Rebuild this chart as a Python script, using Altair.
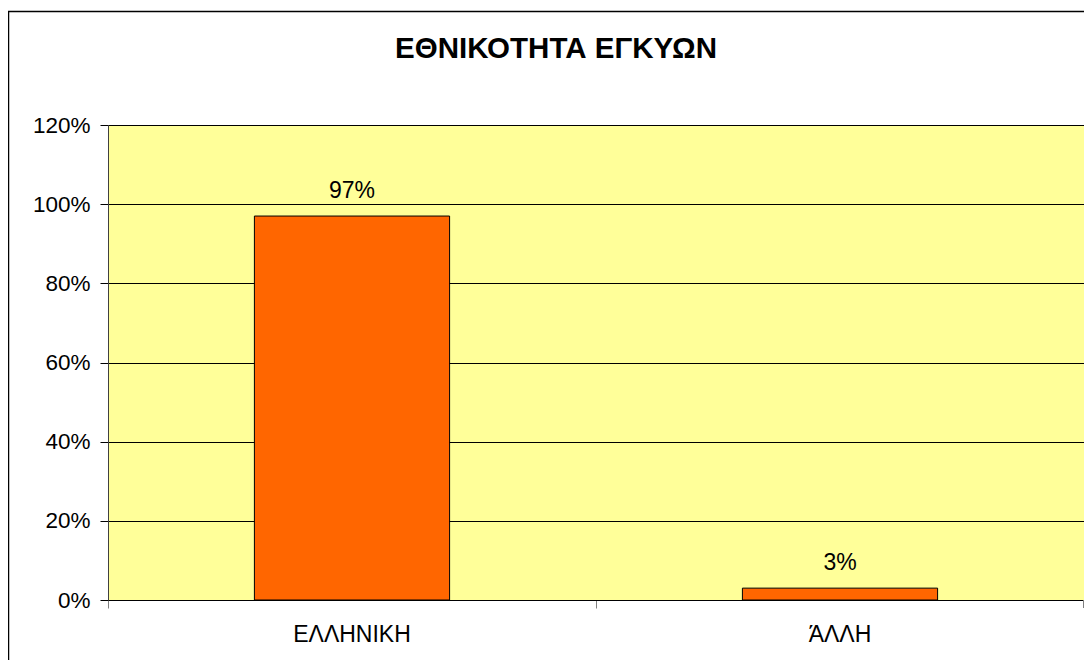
import altair as alt
import pandas as pd

categories = ["ΕΛΛΗΝΙΚΗ", "ΆΛΛΗ"]
values = [0.97, 0.03]
labels = ["97%", "3%"]
y_ticks = [0, 0.2, 0.4, 0.6, 0.8, 1.0, 1.2]

df = pd.DataFrame({"cat": categories, "val": values, "lab": labels})

FONT = "Liberation Sans"
W, H = 976, 475

x_enc = alt.X("cat:N", sort=categories, title=None,
              scale=alt.Scale(paddingInner=0, paddingOuter=0),
              axis=alt.Axis(labelAngle=0, bandPosition=0, tickSize=8, tickColor="#808080",
                            domainColor="#000000", labelFontSize=23, labelFont=FONT,
                            labelColor="#000000", labelPadding=15, grid=False))
y_enc = alt.Y("val:Q", title=None,
              scale=alt.Scale(domain=[0, 1.2], nice=False),
              axis=alt.Axis(values=y_ticks, format=".0%", tickSize=8, tickColor="#000000",
                            domainColor="#404040", gridColor="#000000", gridOpacity=1,
                            gridWidth=1, labelFontSize=22.5, labelFont=FONT,
                            labelColor="#000000", labelPadding=10))

base = alt.Chart(df)

bars = base.mark_bar(width=alt.RelativeBandSize(0.4), color="#FF6600",
                     stroke="#000000", strokeWidth=1).encode(x=x_enc, y=y_enc)

text = base.mark_text(baseline="bottom", dy=-13, fontSize=23, font=FONT,
                      color="#000000").encode(x=alt.X("cat:N", sort=categories),
                                              y="val:Q", text="lab:N")

end_tick = alt.Chart(pd.DataFrame({"a": [0]})).mark_rule(color="#808080").encode(
    x=alt.value(W - 0.5), y=alt.value(H), y2=alt.value(H + 8))

frame = alt.Chart(pd.DataFrame({"a": [0]})).mark_rect(
    fill=None, stroke="#000000", strokeWidth=1.5, clip=False).encode(
    x=alt.value(-99.5), x2=alt.value(1000), y=alt.value(-113.5), y2=alt.value(600))

chart = alt.layer(frame, bars, text, end_tick).properties(
    width=W, height=H,
    autosize=alt.AutoSizeParams(type="none"),
    padding={"left": 100, "top": 117, "right": 0, "bottom": 60},
    title=alt.Title("ΕΘΝΙΚΟΤΗΤΑ ΕΓΚΥΩΝ", fontSize=29.5, fontWeight="bold", font=FONT,
                    color="#000000", anchor="middle", baseline="alphabetic",
                    offset=-76.5, dx=-40),
    background="#FFFFFF",
).configure_view(fill="#FFFF99", stroke="#808080", strokeWidth=1)

chart.save("out.html", embed_options={"renderer": "svg", "actions": False})
